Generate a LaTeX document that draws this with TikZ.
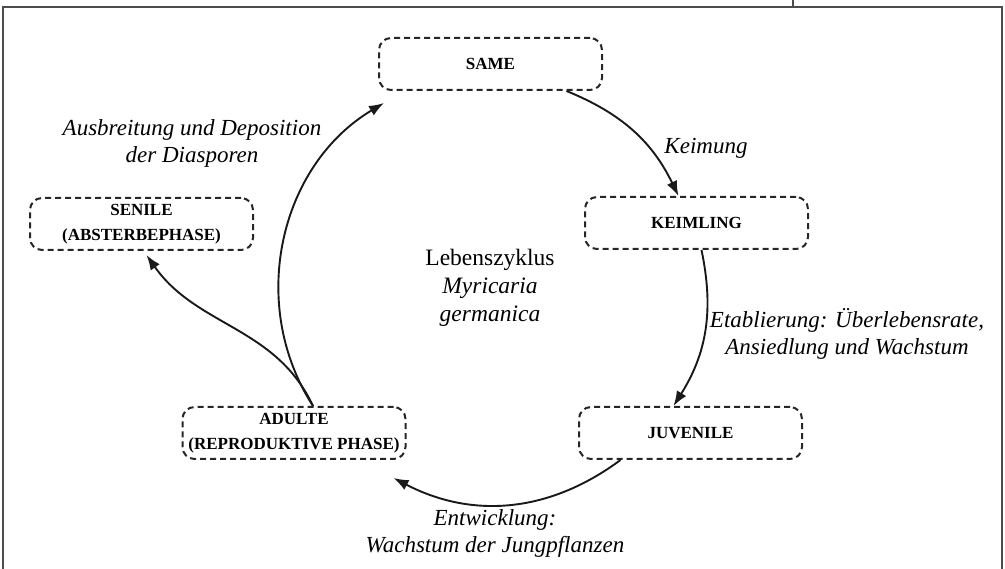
\documentclass[tikz,border=0pt]{standalone}
\usepackage{fontspec}
\setmainfont{Liberation Serif}
\usetikzlibrary{arrows.meta}

\begin{document}
\begin{tikzpicture}[x=1pt,y=1pt,
  stage/.style={draw=black!85, line width=2pt, dash pattern=on 6pt off 4pt,
    rounded corners=12pt, minimum width=223pt, minimum height=52pt,
    align=center, inner sep=0pt, font=\fontsize{17}{25}\selectfont\bfseries},
  note/.style={align=center, font=\fontsize{23}{27}\selectfont\itshape},
  flow/.style={-{Latex[length=15pt,width=11pt]}, line width=1.9pt, black!90}]
\useasboundingbox (0,0) rectangle (1005,569);
              %frame
\draw [line width=1.5pt, black!70] (3,0) -- (3,562) -- (1002,562) -- (1002,0);
\draw [line width=1.2pt, black!70] (793,562) -- (793,569);
              %stages of the cycle
\node [stage] (same) at (490.5,505) {SAME};
\node [stage] (keimling) at (696.5,346) {KEIMLING};
\node [stage] (juvenile) at (690.5,136) {JUVENILE};
\node [stage] (adulte) at (294,136) {ADULTE\\(REPRODUKTIVE PHASE)};
\node [stage] (senile) at (141.5,345) {SENILE\\(ABSTERBEPHASE)};
              %labels
\node [note, font=\fontsize{23.5}{28}\selectfont] (zyklus) at (490,281)
  {Lebenszyklus\\\textit{Myricaria}\\\textit{germanica}};
\node [note] (keimung) at (706,421) {Keimung};
\node [note] (ausbreitung) at (192,426) {Ausbreitung und Deposition\\der Diasporen};
\node [note] (etablierung) at (847,235) {Etablierung: Überlebensrate,\\Ansiedlung und Wachstum};
\node [note] (entwicklung) at (495,36) {Entwicklung:\\Wachstum der Jungpflanzen};
              %arrows
\draw [flow] ([xshift=76pt]same.south) to[bend left=21] ([xshift=-18pt]keimling.north);
\draw [flow] ([xshift=5pt]keimling.south) to[bend left=22] ([xshift=-17pt]juvenile.north);
\draw [flow] ([xshift=-70pt]juvenile.south) to[bend left=32] ([xshift=-13pt,yshift=-18pt]adulte.south east);
\draw [flow] ([xshift=19pt]adulte.north) to[bend left=46] ([xshift=6pt,yshift=-12pt]same.south west);
\draw [flow] ([xshift=19pt]adulte.north) to[out=115,in=-55] ([xshift=5pt,yshift=-4pt]senile.south);
\end{tikzpicture}
\end{document}
